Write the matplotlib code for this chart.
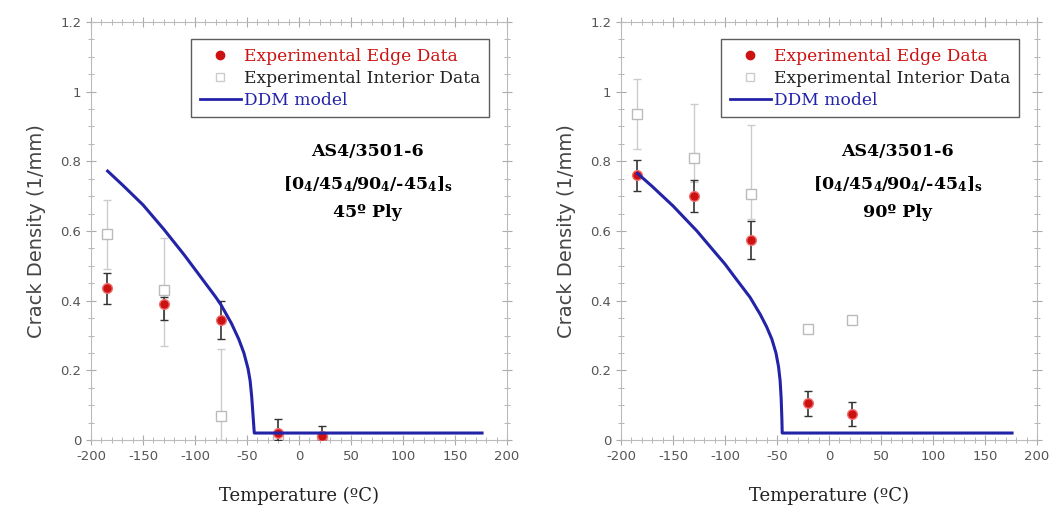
import matplotlib
matplotlib.use('Agg')
import matplotlib.pyplot as plt
import numpy as np
from matplotlib.ticker import MultipleLocator
from matplotlib.lines import Line2D

plt.rcParams['axes.unicode_minus'] = False
plt.rcParams['mathtext.fontset'] = 'dejavuserif'

# temperatures of the tests
temps = [-185, -130, -75, -20, 22]

# 45 deg ply
edge45 = [0.435, 0.39, 0.345, 0.02, 0.012]
edge45_lo = [0.045, 0.045, 0.055, 0.02, 0.012]
edge45_hi = [0.045, 0.02, 0.055, 0.04, 0.028]
int45 = [0.59, 0.43, 0.07, 0.0, 0.0]
int45_lo = [0.10, 0.16, 0.07, 0.0, 0.0]
int45_hi = [0.10, 0.15, 0.19, 0.0, 0.0]
model45_t = [-184, -170, -150, -130, -110, -100, -90, -80, -75, -65, -58, -53, -49, -47, -45.5, -44.3, -43, 176]
model45_v = [0.772, 0.733, 0.675, 0.605, 0.53, 0.49, 0.45, 0.41, 0.388, 0.335, 0.29, 0.25, 0.205, 0.17, 0.125, 0.075, 0.02, 0.02]

# 90 deg ply
edge90 = [0.76, 0.70, 0.575, 0.105, 0.075]
edge90_lo = [0.045, 0.045, 0.055, 0.035, 0.035]
edge90_hi = [0.045, 0.045, 0.055, 0.035, 0.035]
int90 = [0.935, 0.81, 0.705, 0.32, 0.345]
int90_lo = [0.10, 0.07, 0.07, 0.0, 0.0]
int90_hi = [0.10, 0.155, 0.20, 0.0, 0.0]
model90_t = [-184, -170, -150, -127, -110, -100, -90, -76, -66, -60, -55, -51, -48.5, -47, -46, -45.3, -45, 176]
model90_v = [0.765, 0.728, 0.672, 0.60, 0.54, 0.505, 0.465, 0.41, 0.36, 0.325, 0.29, 0.25, 0.21, 0.17, 0.12, 0.06, 0.02, 0.02]

panels = [
    (edge45, edge45_lo, edge45_hi, int45, int45_lo, int45_hi, model45_t, model45_v, '45º Ply'),
    (edge90, edge90_lo, edge90_hi, int90, int90_lo, int90_hi, model90_t, model90_v, '90º Ply'),
]

serif = 'DejaVu Serif'
red = '#cc1111'
blue = '#2323a8'

fig = plt.figure(figsize=(10.62, 5.15), dpi=100)
lefts = [91 / 1062, 621 / 1062]

for left, (e, elo, ehi, it, ilo, ihi, mt, mv, ply) in zip(lefts, panels):
    ax = fig.add_axes([left, 75 / 515, 416 / 1062, 418 / 515])
    ax.errorbar(temps, it, yerr=[ilo, ihi], fmt='s', ms=7, mfc='white', mec='#bbbbbb',
                ecolor='#cccccc', elinewidth=1, capsize=3, zorder=2)
    ax.errorbar(temps, e, yerr=[elo, ehi], fmt='o', ms=7, mfc=red, mec='#f07070',
                ecolor='#333333', elinewidth=1.2, capsize=3, zorder=3)
    ax.plot(mt, mv, color=blue, lw=2.2, zorder=4)

    ax.set_xlim(-200, 200)
    ax.set_ylim(0, 1.2)
    ax.xaxis.set_major_locator(MultipleLocator(50))
    ax.xaxis.set_minor_locator(MultipleLocator(10))
    ax.yaxis.set_minor_locator(MultipleLocator(0.05))
    ax.set_yticks([0, 0.2, 0.4, 0.6, 0.8, 1, 1.2])
    ax.set_yticklabels(['0', '0.2', '0.4', '0.6', '0.8', '1', '1.2'])
    ax.tick_params(which='both', direction='inout', top=True, right=True,
                   color='#aaaaaa', labelcolor='#555555', labelsize=9.5)
    ax.tick_params(which='major', length=7)
    ax.tick_params(which='minor', length=4)
    for s in ax.spines.values():
        s.set_color('#bbbbbb')

    ax.set_ylabel('Crack Density (1/mm)', fontsize=14, color='#444444', labelpad=10)
    ax.set_xlabel('Temperature (ºC)', fontsize=13, family=serif, color='#222222', labelpad=17)

    ax.text(0.665, 0.689, 'AS4/3501-6', transform=ax.transAxes, ha='center', va='center',
            family=serif, fontweight='bold', fontsize=12.5)
    ax.text(0.665, 0.612, r'[0$_\mathbf{4}$/45$_\mathbf{4}$/90$_\mathbf{4}$/-45$_\mathbf{4}$]$_\mathbf{s}$',
            transform=ax.transAxes, ha='center', va='center',
            family=serif, fontweight='bold', fontsize=12.5)
    ax.text(0.665, 0.545, ply, transform=ax.transAxes, ha='center', va='center',
            family=serif, fontweight='bold', fontsize=12.5)

    handles = [
        Line2D([], [], ls='none', marker='o', ms=6, mfc=red, mec=red),
        Line2D([], [], ls='none', marker='s', ms=6, mfc='white', mec='#cccccc'),
        Line2D([], [], color=blue, lw=2),
    ]
    leg = ax.legend(handles, ['Experimental Edge Data', 'Experimental Interior Data', 'DDM model'],
                    loc='upper right', bbox_to_anchor=(0.957, 0.959), frameon=True, fancybox=False,
                    prop={'family': serif, 'size': 12.3}, handlelength=2.4, handletextpad=0.2,
                    borderpad=0.5, labelspacing=0.3, borderaxespad=0)
    leg.get_frame().set_edgecolor('#333333')
    leg.get_frame().set_linewidth(1)
    for t, c in zip(leg.get_texts(), [red, '#222222', blue]):
        t.set_color(c)

fig.savefig('out.png', dpi=100)
